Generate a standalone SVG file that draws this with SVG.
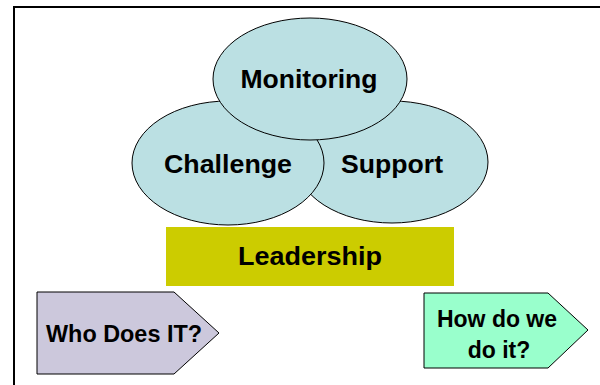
<svg xmlns="http://www.w3.org/2000/svg" width="600" height="385" viewBox="0 0 600 385">
<style>
.ell{fill:#BBE0E3;stroke:#000;stroke-width:1}
.t{font-family:"Liberation Sans",Arial,sans-serif;font-weight:bold;fill:#000;text-anchor:middle}
.big{font-size:26px}
.sm{font-size:23px}
</style>
<rect width="600" height="385" fill="#fff"/>
<g id="frame" fill="none" stroke="#000" stroke-width="2">
<polyline points="14,385 14,7 600,7"/>
</g>
<g id="support">
<ellipse class="ell" cx="392" cy="162" rx="96" ry="61"/>
<text class="t big" x="392" y="173" textLength="102" lengthAdjust="spacingAndGlyphs">Support</text>
</g>
<g id="challenge">
<ellipse class="ell" cx="228" cy="163" rx="96" ry="62"/>
<text class="t big" x="228" y="173" textLength="128" lengthAdjust="spacingAndGlyphs">Challenge</text>
</g>
<g id="monitoring">
<ellipse class="ell" cx="310" cy="79" rx="97" ry="61"/>
<text class="t big" x="309" y="88" textLength="137" lengthAdjust="spacingAndGlyphs">Monitoring</text>
</g>
<g id="leadership">
<rect x="166" y="227" width="288" height="59" fill="#CCCC00"/>
<text class="t big" x="310" y="265" textLength="144" lengthAdjust="spacingAndGlyphs">Leadership</text>
</g>
<g id="who">
<polygon points="37,292 174,292 219,333 174,374 37,374" fill="#CCC8DC" stroke="#000" stroke-width="1"/>
<text class="t sm" x="124" y="342" textLength="156" lengthAdjust="spacingAndGlyphs">Who Does IT?</text>
</g>
<g id="how">
<polygon points="424,293 548,293 588,330 548,368 424,368" fill="#99FFCC" stroke="#000" stroke-width="1"/>
<text class="t sm" x="497" y="327">How do we</text>
<text class="t sm" x="499" y="358">do it?</text>
</g>
<g id="connectors"/>
</svg>
